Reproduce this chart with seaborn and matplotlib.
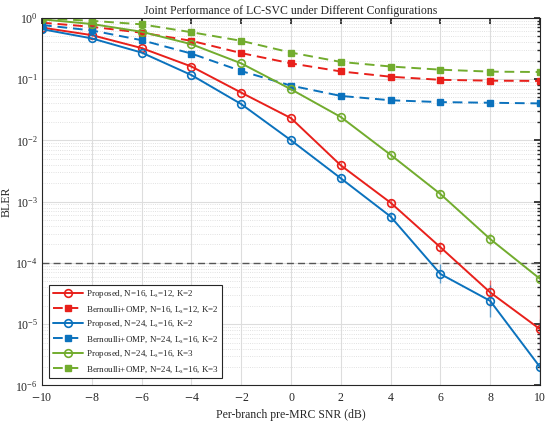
import numpy as np
import pandas as pd
import matplotlib
matplotlib.use("Agg")
import matplotlib.pyplot as plt
from matplotlib.ticker import LogLocator, NullFormatter
import seaborn as sns

# SNR axis (dB)
snr = [-10, -8, -6, -4, -2, 0, 2, 4, 6, 8, 10]

# BLER
prop_16_12_k2 = [0.69, 0.52, 0.32, 0.16, 0.060, 0.023, 3.9e-3, 9.6e-4, 1.8e-4, 3.3e-5, 8.3e-6]
bern_16_12_k2 = [0.83, 0.71, 0.57, 0.42, 0.265, 0.18, 0.133, 0.109, 0.097, 0.094, 0.093]
prop_24_16_k2 = [0.65, 0.46, 0.27, 0.116, 0.039, 0.010, 2.4e-3, 5.7e-4, 6.6e-5, 2.4e-5, 2.0e-6]
bern_24_16_k2 = [0.76, 0.62, 0.43, 0.26, 0.135, 0.078, 0.053, 0.045, 0.042, 0.041, 0.040]
prop_24_16_k3 = [0.94, 0.79, 0.59, 0.37, 0.18, 0.068, 0.024, 5.8e-3, 1.33e-3, 2.45e-4, 5.5e-5]
bern_24_16_k3 = [0.98, 0.89, 0.78, 0.58, 0.42, 0.27, 0.19, 0.16, 0.142, 0.132, 0.130]

# relative error bar extents (lower, upper) for the proposed curves
err_lo_16_12_k2 = [0.02, 0.02, 0.03, 0.04, 0.06, 0.10, 0.13, 0.16, 0.22, 0.42, 0.60]
err_hi_16_12_k2 = [0.02, 0.02, 0.03, 0.04, 0.06, 0.10, 0.13, 0.16, 0.22, 0.58, 1.50]
err_lo_24_16_k2 = [0.02, 0.02, 0.03, 0.05, 0.08, 0.10, 0.13, 0.18, 0.30, 0.45, 0.99]
err_hi_24_16_k2 = [0.02, 0.02, 0.03, 0.05, 0.08, 0.10, 0.13, 0.18, 0.45, 0.80, 5.00]
err_lo_24_16_k3 = [0.02, 0.02, 0.02, 0.03, 0.04, 0.05, 0.08, 0.10, 0.15, 0.20, 0.15]
err_hi_24_16_k3 = [0.02, 0.02, 0.02, 0.03, 0.04, 0.05, 0.08, 0.10, 0.15, 0.25, 0.15]

target_bler = 1e-4

labels = [
    r"Proposed, N=16, L$_\mathrm{s}$=12, K=2",
    r"Bernoulli+OMP, N=16, L$_\mathrm{s}$=12, K=2",
    r"Proposed, N=24, L$_\mathrm{s}$=16, K=2",
    r"Bernoulli+OMP, N=24, L$_\mathrm{s}$=16, K=2",
    r"Proposed, N=24, L$_\mathrm{s}$=16, K=3",
    r"Bernoulli+OMP, N=24, L$_\mathrm{s}$=16, K=3",
]
series = [prop_16_12_k2, bern_16_12_k2, prop_24_16_k2, bern_24_16_k2, prop_24_16_k3, bern_24_16_k3]
errs = {0: (err_lo_16_12_k2, err_hi_16_12_k2),
        2: (err_lo_24_16_k2, err_hi_24_16_k2),
        4: (err_lo_24_16_k3, err_hi_24_16_k3)}

red, blue, green = "#E8201B", "#0B72BD", "#72AC2E"
colors = [red, red, blue, blue, green, green]

sns.set_theme(style="white")
plt.rcParams['font.family'] = ['Liberation Serif', 'DejaVu Serif']
plt.rcParams['mathtext.fontset'] = 'stix'

fig = plt.figure(figsize=(5.5, 4.22), dpi=100)
ax = fig.add_axes([0.0764, 0.0865, 0.9054, 0.8715])

rows = []
for lab, vals in zip(labels, series):
    for s, v in zip(snr, vals):
        rows.append({"SNR": s, "BLER": v, "cfg": lab})
df = pd.DataFrame(rows)

for i, lab in enumerate(labels):
    sub = df[df["cfg"] == lab]
    proposed = (i % 2 == 0)
    if proposed:
        mk = dict(marker="o", markersize=5.5, markerfacecolor="none",
                  markeredgecolor=colors[i], markeredgewidth=1.2)
        ls = "-"
    else:
        mk = dict(marker="s", markersize=4.2, markerfacecolor=colors[i],
                  markeredgecolor=colors[i], markeredgewidth=1.0)
        ls = (0, (5, 3))
    sns.lineplot(data=sub, x="SNR", y="BLER", ax=ax, color=colors[i],
                 linewidth=1.4, linestyle=ls, label=lab, **mk)
    if proposed:
        v = np.array(series[i])
        lo, hi = errs[i]
        ax.errorbar(snr, v, yerr=[v * np.array(lo), v * np.array(hi)], fmt="none",
                    ecolor=colors[i], elinewidth=1.0, capsize=0, alpha=0.6, zorder=1)

ax.axhline(target_bler, color="#555555", linestyle=(0, (5, 3)), linewidth=1.0, zorder=1)

ax.set_yscale("log")
ax.set_xlim(-10, 10)
ax.set_ylim(1e-6, 1)
ax.set_xticks(snr)
ax.set_xticklabels([f"$-${-s}" if s < 0 else str(s) for s in snr])
ax.yaxis.set_major_locator(LogLocator(base=10, numticks=10))
ax.yaxis.set_minor_locator(LogLocator(base=10, subs=np.arange(2, 10), numticks=100))
ax.yaxis.set_minor_formatter(NullFormatter())

ax.grid(True, which="major", color="#DDDDDD", linewidth=0.8, linestyle="-")
ax.grid(True, which="minor", axis="y", color="#D8D8D8", linewidth=0.6, linestyle=":")
ax.set_axisbelow(True)

ax.tick_params(which="both", direction="in", top=True, right=True, labelsize=8.5,
               color="#262626", pad=3)
ax.tick_params(axis="x", pad=4.5)
ax.tick_params(which="major", length=4)
ax.tick_params(which="minor", length=2)
for sp in ax.spines.values():
    sp.set_color("#262626")
    sp.set_linewidth(0.8)

ax.set_xlabel("Per-branch pre-MRC SNR (dB)", fontsize=8.5)
ax.xaxis.set_label_coords(0.5, -0.063)
ax.set_ylabel("BLER", fontsize=8.5)
ax.yaxis.set_label_coords(-0.06, 0.5)
ax.set_title("Joint Performance of LC-SVC under Different Configurations", fontsize=8.5, pad=3)

leg = ax.legend(loc="lower left", bbox_to_anchor=(0.015, 0.021), borderaxespad=0,
                fontsize=6.5, frameon=True, fancybox=False, edgecolor="#262626",
                framealpha=1, handlelength=3.4, labelspacing=0.42, borderpad=0.35,
                handletextpad=0.3)
leg.get_frame().set_linewidth(0.8)

fig.savefig("out.png", dpi=100)
